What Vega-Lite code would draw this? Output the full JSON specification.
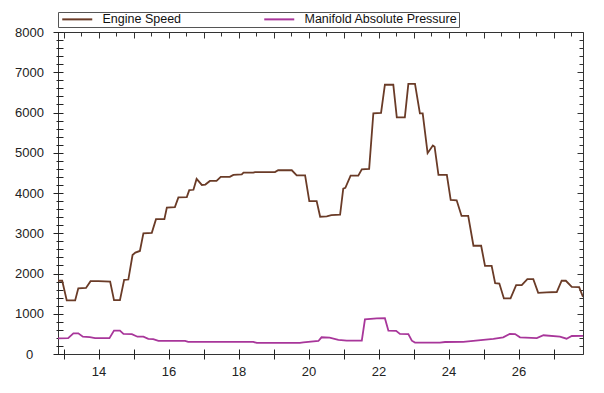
{
  "$schema": "https://vega.github.io/schema/vega-lite/v6.json",
  "width": 525,
  "height": 322,
  "autosize": {"type": "none"},
  "padding": {"left": 58, "top": 32, "right": 21, "bottom": 39},
  "background": "white",
  "config": {
    "view": {"stroke": "#333333", "strokeWidth": 1},
    "font": "Liberation Sans"
  },
  "data": {
    "values": [
      {"series": "Engine Speed", "t": 12.84, "v": 1820},
      {"series": "Engine Speed", "t": 12.96, "v": 1820},
      {"series": "Engine Speed", "t": 13.09, "v": 1330},
      {"series": "Engine Speed", "t": 13.33, "v": 1330},
      {"series": "Engine Speed", "t": 13.42, "v": 1630},
      {"series": "Engine Speed", "t": 13.64, "v": 1640},
      {"series": "Engine Speed", "t": 13.77, "v": 1810},
      {"series": "Engine Speed", "t": 14.0, "v": 1810},
      {"series": "Engine Speed", "t": 14.33, "v": 1800},
      {"series": "Engine Speed", "t": 14.44, "v": 1340},
      {"series": "Engine Speed", "t": 14.61, "v": 1340},
      {"series": "Engine Speed", "t": 14.73, "v": 1840},
      {"series": "Engine Speed", "t": 14.85, "v": 1850},
      {"series": "Engine Speed", "t": 14.97, "v": 2460},
      {"series": "Engine Speed", "t": 15.05, "v": 2520},
      {"series": "Engine Speed", "t": 15.18, "v": 2560},
      {"series": "Engine Speed", "t": 15.28, "v": 3000},
      {"series": "Engine Speed", "t": 15.52, "v": 3010},
      {"series": "Engine Speed", "t": 15.64, "v": 3350},
      {"series": "Engine Speed", "t": 15.88, "v": 3350},
      {"series": "Engine Speed", "t": 15.95, "v": 3640},
      {"series": "Engine Speed", "t": 16.18, "v": 3650},
      {"series": "Engine Speed", "t": 16.28, "v": 3890},
      {"series": "Engine Speed", "t": 16.52, "v": 3900},
      {"series": "Engine Speed", "t": 16.59, "v": 4070},
      {"series": "Engine Speed", "t": 16.71, "v": 4080},
      {"series": "Engine Speed", "t": 16.8, "v": 4350},
      {"series": "Engine Speed", "t": 16.95, "v": 4200},
      {"series": "Engine Speed", "t": 17.05, "v": 4210},
      {"series": "Engine Speed", "t": 17.18, "v": 4300},
      {"series": "Engine Speed", "t": 17.37, "v": 4300},
      {"series": "Engine Speed", "t": 17.49, "v": 4400},
      {"series": "Engine Speed", "t": 17.75, "v": 4400},
      {"series": "Engine Speed", "t": 17.85, "v": 4450},
      {"series": "Engine Speed", "t": 18.09, "v": 4460},
      {"series": "Engine Speed", "t": 18.14, "v": 4505},
      {"series": "Engine Speed", "t": 18.42, "v": 4505},
      {"series": "Engine Speed", "t": 18.47, "v": 4520},
      {"series": "Engine Speed", "t": 19.04, "v": 4520},
      {"series": "Engine Speed", "t": 19.13, "v": 4565},
      {"series": "Engine Speed", "t": 19.52, "v": 4565},
      {"series": "Engine Speed", "t": 19.66, "v": 4440},
      {"series": "Engine Speed", "t": 19.9, "v": 4440},
      {"series": "Engine Speed", "t": 20.02, "v": 3800},
      {"series": "Engine Speed", "t": 20.23, "v": 3800},
      {"series": "Engine Speed", "t": 20.33, "v": 3410},
      {"series": "Engine Speed", "t": 20.52, "v": 3420},
      {"series": "Engine Speed", "t": 20.65, "v": 3450},
      {"series": "Engine Speed", "t": 20.9, "v": 3460},
      {"series": "Engine Speed", "t": 20.99, "v": 4110},
      {"series": "Engine Speed", "t": 21.05, "v": 4130},
      {"series": "Engine Speed", "t": 21.2, "v": 4430},
      {"series": "Engine Speed", "t": 21.42, "v": 4430},
      {"series": "Engine Speed", "t": 21.52, "v": 4590},
      {"series": "Engine Speed", "t": 21.73, "v": 4600},
      {"series": "Engine Speed", "t": 21.85, "v": 5980},
      {"series": "Engine Speed", "t": 22.07, "v": 5990},
      {"series": "Engine Speed", "t": 22.18, "v": 6690},
      {"series": "Engine Speed", "t": 22.42, "v": 6690},
      {"series": "Engine Speed", "t": 22.52, "v": 5880},
      {"series": "Engine Speed", "t": 22.75, "v": 5880},
      {"series": "Engine Speed", "t": 22.85, "v": 6710},
      {"series": "Engine Speed", "t": 23.04, "v": 6710},
      {"series": "Engine Speed", "t": 23.18, "v": 5980},
      {"series": "Engine Speed", "t": 23.26, "v": 5980},
      {"series": "Engine Speed", "t": 23.4, "v": 4990},
      {"series": "Engine Speed", "t": 23.55, "v": 5180},
      {"series": "Engine Speed", "t": 23.6, "v": 5150},
      {"series": "Engine Speed", "t": 23.71, "v": 4450},
      {"series": "Engine Speed", "t": 23.95, "v": 4450},
      {"series": "Engine Speed", "t": 24.06, "v": 3830},
      {"series": "Engine Speed", "t": 24.23, "v": 3820},
      {"series": "Engine Speed", "t": 24.37, "v": 3430},
      {"series": "Engine Speed", "t": 24.56, "v": 3430},
      {"series": "Engine Speed", "t": 24.71, "v": 2690},
      {"series": "Engine Speed", "t": 24.93, "v": 2690},
      {"series": "Engine Speed", "t": 25.04, "v": 2190},
      {"series": "Engine Speed", "t": 25.23, "v": 2190},
      {"series": "Engine Speed", "t": 25.33, "v": 1760},
      {"series": "Engine Speed", "t": 25.45, "v": 1750},
      {"series": "Engine Speed", "t": 25.58, "v": 1380},
      {"series": "Engine Speed", "t": 25.77, "v": 1380},
      {"series": "Engine Speed", "t": 25.93, "v": 1710},
      {"series": "Engine Speed", "t": 26.09, "v": 1710},
      {"series": "Engine Speed", "t": 26.25, "v": 1860},
      {"series": "Engine Speed", "t": 26.42, "v": 1860},
      {"series": "Engine Speed", "t": 26.56, "v": 1520},
      {"series": "Engine Speed", "t": 26.8, "v": 1530},
      {"series": "Engine Speed", "t": 27.09, "v": 1540},
      {"series": "Engine Speed", "t": 27.23, "v": 1820},
      {"series": "Engine Speed", "t": 27.35, "v": 1820},
      {"series": "Engine Speed", "t": 27.52, "v": 1670},
      {"series": "Engine Speed", "t": 27.73, "v": 1660},
      {"series": "Engine Speed", "t": 27.84, "v": 1420},
      {"series": "Manifold Absolute Pressure", "t": 12.84, "v": 390},
      {"series": "Manifold Absolute Pressure", "t": 13.13, "v": 395},
      {"series": "Manifold Absolute Pressure", "t": 13.28, "v": 514},
      {"series": "Manifold Absolute Pressure", "t": 13.42, "v": 514},
      {"series": "Manifold Absolute Pressure", "t": 13.55, "v": 430},
      {"series": "Manifold Absolute Pressure", "t": 13.75, "v": 420},
      {"series": "Manifold Absolute Pressure", "t": 13.9, "v": 395},
      {"series": "Manifold Absolute Pressure", "t": 14.31, "v": 395},
      {"series": "Manifold Absolute Pressure", "t": 14.44, "v": 580},
      {"series": "Manifold Absolute Pressure", "t": 14.61, "v": 580},
      {"series": "Manifold Absolute Pressure", "t": 14.71, "v": 500},
      {"series": "Manifold Absolute Pressure", "t": 14.95, "v": 495},
      {"series": "Manifold Absolute Pressure", "t": 15.11, "v": 430},
      {"series": "Manifold Absolute Pressure", "t": 15.28, "v": 430},
      {"series": "Manifold Absolute Pressure", "t": 15.42, "v": 375},
      {"series": "Manifold Absolute Pressure", "t": 15.56, "v": 370},
      {"series": "Manifold Absolute Pressure", "t": 15.71, "v": 325},
      {"series": "Manifold Absolute Pressure", "t": 16.47, "v": 325},
      {"series": "Manifold Absolute Pressure", "t": 16.56, "v": 300},
      {"series": "Manifold Absolute Pressure", "t": 18.42, "v": 300},
      {"series": "Manifold Absolute Pressure", "t": 18.52, "v": 275},
      {"series": "Manifold Absolute Pressure", "t": 19.75, "v": 275},
      {"series": "Manifold Absolute Pressure", "t": 19.85, "v": 290},
      {"series": "Manifold Absolute Pressure", "t": 20.28, "v": 323},
      {"series": "Manifold Absolute Pressure", "t": 20.37, "v": 415},
      {"series": "Manifold Absolute Pressure", "t": 20.6, "v": 405},
      {"series": "Manifold Absolute Pressure", "t": 20.85, "v": 350},
      {"series": "Manifold Absolute Pressure", "t": 21.09, "v": 330},
      {"series": "Manifold Absolute Pressure", "t": 21.52, "v": 330},
      {"series": "Manifold Absolute Pressure", "t": 21.61, "v": 860},
      {"series": "Manifold Absolute Pressure", "t": 21.95, "v": 885},
      {"series": "Manifold Absolute Pressure", "t": 22.18, "v": 890},
      {"series": "Manifold Absolute Pressure", "t": 22.28, "v": 580},
      {"series": "Manifold Absolute Pressure", "t": 22.5, "v": 575},
      {"series": "Manifold Absolute Pressure", "t": 22.61, "v": 500},
      {"series": "Manifold Absolute Pressure", "t": 22.85, "v": 495},
      {"series": "Manifold Absolute Pressure", "t": 22.95, "v": 330},
      {"series": "Manifold Absolute Pressure", "t": 23.04, "v": 285},
      {"series": "Manifold Absolute Pressure", "t": 23.75, "v": 285},
      {"series": "Manifold Absolute Pressure", "t": 23.9, "v": 298},
      {"series": "Manifold Absolute Pressure", "t": 24.42, "v": 300},
      {"series": "Manifold Absolute Pressure", "t": 24.99, "v": 350},
      {"series": "Manifold Absolute Pressure", "t": 25.28, "v": 375},
      {"series": "Manifold Absolute Pressure", "t": 25.56, "v": 415},
      {"series": "Manifold Absolute Pressure", "t": 25.75, "v": 500},
      {"series": "Manifold Absolute Pressure", "t": 25.9, "v": 495},
      {"series": "Manifold Absolute Pressure", "t": 26.04, "v": 415},
      {"series": "Manifold Absolute Pressure", "t": 26.52, "v": 395},
      {"series": "Manifold Absolute Pressure", "t": 26.71, "v": 465},
      {"series": "Manifold Absolute Pressure", "t": 27.18, "v": 430},
      {"series": "Manifold Absolute Pressure", "t": 27.37, "v": 380},
      {"series": "Manifold Absolute Pressure", "t": 27.52, "v": 447},
      {"series": "Manifold Absolute Pressure", "t": 27.84, "v": 450}
    ]
  },
  "layer": [
    {
      "mark": {"type": "line", "strokeWidth": 1.8, "clip": true},
      "encoding": {
        "x": {
          "field": "t",
          "type": "quantitative",
          "scale": {"domain": [12.84, 27.84], "nice": false, "zero": false},
          "axis": {
            "orient": "bottom",
            "title": null,
            "grid": false,
            "domain": false,
            "offset": -5,
            "values": [13, 13.5, 14, 14.5, 15, 15.5, 16, 16.5, 17, 17.5, 18, 18.5, 19, 19.5, 20, 20.5, 21, 21.5, 22, 22.5, 23, 23.5, 24, 24.5, 25, 25.5, 26, 26.5, 27, 27.5],
            "format": "d",
            "labelExpr": "(datum.value % 2 === 0) ? datum.label : ''",
            "tickSize": {"condition": {"test": "datum.value % 1 === 0", "value": 10}, "value": 7},
            "tickColor": "#222222",
            "tickWidth": 1,
            "labelPadding": 6,
            "labelFontSize": 13,
            "labelColor": "#222222",
            "labelFont": "Liberation Sans",
            "labelFlush": false,
            "labelOverlap": false
          }
        },
        "y": {
          "field": "v",
          "type": "quantitative",
          "scale": {"domain": [0, 8000], "nice": false},
          "axis": {
            "orient": "left",
            "title": null,
            "grid": false,
            "domain": false,
            "offset": -5,
            "values": [0, 200, 400, 600, 800, 1000, 1200, 1400, 1600, 1800, 2000, 2200, 2400, 2600, 2800, 3000, 3200, 3400, 3600, 3800, 4000, 4200, 4400, 4600, 4800, 5000, 5200, 5400, 5600, 5800, 6000, 6200, 6400, 6600, 6800, 7000, 7200, 7400, 7600, 7800, 8000],
            "labelExpr": "(datum.value % 1000 === 0) ? datum.label : ''",
            "format": "d",
            "tickSize": {"condition": {"test": "datum.value % 1000 === 0", "value": 10}, "value": 7},
            "tickColor": "#222222",
            "labelAlign": "center",
            "labelBaseline": "middle",
            "labelPadding": 24,
            "labelFontSize": 13,
            "labelColor": "#222222",
            "labelFont": "Liberation Sans",
            "labelFlush": false,
            "labelOverlap": false
          }
        },
        "color": {
          "field": "series",
          "type": "nominal",
          "scale": {"domain": ["Engine Speed", "Manifold Absolute Pressure"], "range": ["#6a3b27", "#a8369a"]},
          "legend": {
            "title": null,
            "orient": "none",
            "legendX": 0,
            "legendY": -20,
            "direction": "horizontal",
            "symbolType": "M-3,0H3",
            "symbolSize": 100,
            "symbolStrokeWidth": 2,
            "symbolOffset": 12,
            "labelFont": "Liberation Sans",
            "labelFontSize": 12.5,
            "labelColor": "#111111",
            "labelOffset": 19,
            "columnPadding": 78,
            "padding": 1,
            "strokeColor": "#555555",
            "fillColor": "white"
          }
        }
      }
    },
    {
      "mark": {"type": "line", "opacity": 0},
      "encoding": {
        "x": {
          "field": "t",
          "type": "quantitative",
          "axis": {
            "orient": "top",
            "title": null,
            "grid": false,
            "domain": false,
            "labels": false,
            "values": [13, 13.5, 14, 14.5, 15, 15.5, 16, 16.5, 17, 17.5, 18, 18.5, 19, 19.5, 20, 20.5, 21, 21.5, 22, 22.5, 23, 23.5, 24, 24.5, 25, 25.5, 26, 26.5, 27, 27.5],
            "tickSize": {"condition": {"test": "datum.value % 1 === 0", "value": -6}, "value": -4},
            "tickColor": "#333333"
          }
        },
        "y": {
          "field": "v",
          "type": "quantitative",
          "axis": {
            "orient": "right",
            "title": null,
            "grid": false,
            "domain": false,
            "labels": false,
            "values": [0, 200, 400, 600, 800, 1000, 1200, 1400, 1600, 1800, 2000, 2200, 2400, 2600, 2800, 3000, 3200, 3400, 3600, 3800, 4000, 4200, 4400, 4600, 4800, 5000, 5200, 5400, 5600, 5800, 6000, 6200, 6400, 6600, 6800, 7000, 7200, 7400, 7600, 7800, 8000],
            "tickSize": {"condition": {"test": "datum.value % 1000 === 0", "value": -6}, "value": -4},
            "tickColor": "#333333"
          }
        },
        "detail": {"field": "series"}
      }
    }
  ],
  "resolve": {"axis": {"x": "independent", "y": "independent"}}
}
